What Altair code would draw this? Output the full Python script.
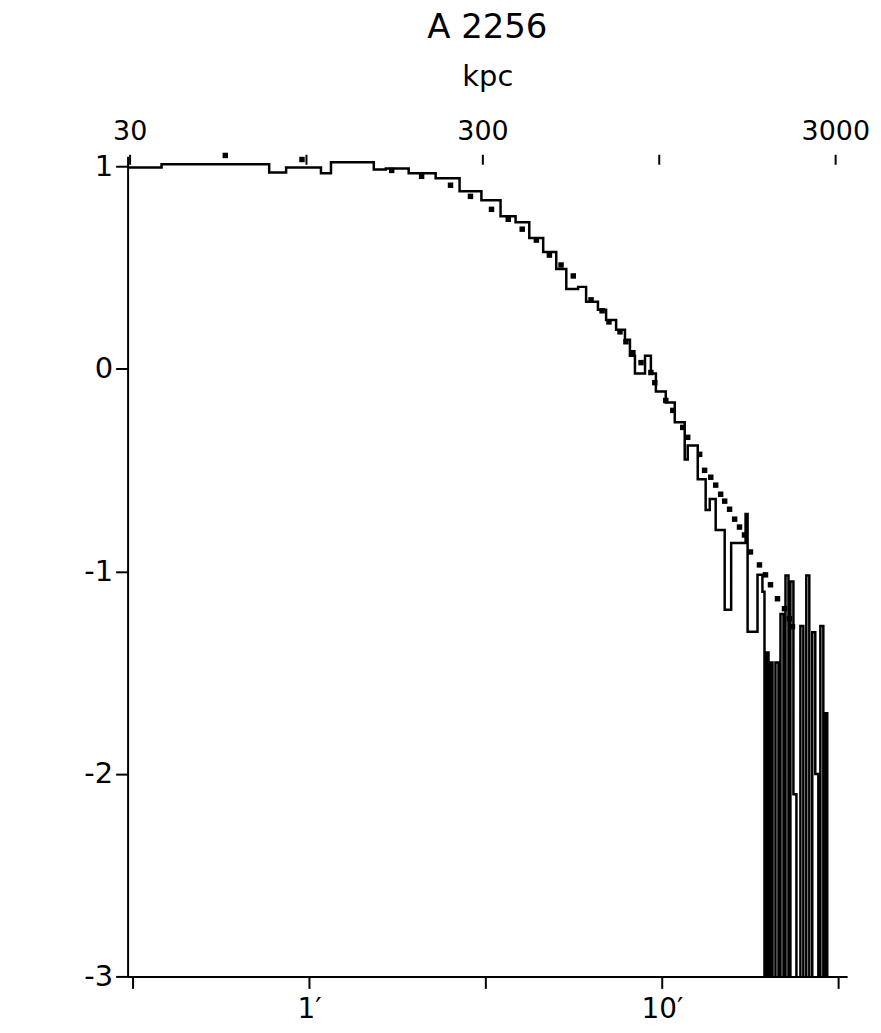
import altair as alt
import pandas as pd

FONT = "DejaVu Sans, Liberation Sans"

# Observed profile (step histogram): left bin edge in arcmin, log10 surface brightness
hist_r = [0.306, 0.382, 0.771, 0.861, 1.081, 1.154, 1.526, 1.651, 1.916, 2.285,
          2.671, 3.08, 3.49, 3.85, 4.21, 4.61, 5.02, 5.36, 5.79, 6.10,
          6.59, 6.95, 7.42, 7.86, 8.12, 8.39, 8.96, 9.31, 9.62, 10.26,
          10.88, 11.61, 11.84, 12.64, 13.31, 13.67, 14.21, 15.07, 15.72, 17.27,
          17.5, 18.67, 19.28, 19.54, 19.80, 20.06, 20.32, 20.59, 20.99, 21.41,
          21.69, 22.12, 22.41, 22.85, 23.14, 23.60, 24.07, 24.70, 25.18, 25.67,
          26.18, 26.69, 27.22, 27.77, 28.14, 28.69, 29.07, 29.43]
hist_log = [0.995, 1.010, 0.970, 0.995, 0.966, 1.020, 0.985, 0.990, 0.966, 0.941,
            0.877, 0.833, 0.754, 0.724, 0.646, 0.577, 0.493, 0.395, 0.405, 0.331,
            0.292, 0.242, 0.193, 0.144, 0.065, -0.023, 0.065, -0.023, -0.112, -0.166,
            -0.264, -0.447, -0.378, -0.545, -0.697, -0.643, -0.796, -1.189, -0.86, -0.717,
            -1.298, -1.017, -1.10, -3.5, -1.40, -3.5, -1.45, -3.5, -1.45, -3.5,
            -1.21, -3.5, -1.02, -3.5, -1.05, -2.10, -3.5, -1.27, -3.5, -1.02,
            -3.5, -1.30, -2.0, -3.5, -1.27, -3.5, -1.70, -3.5]

# Model profile (dots)
dot_r = [0.579, 0.955, 1.715, 2.085, 2.518, 2.868, 3.29, 3.67, 4.02, 4.41,
         4.80, 5.18, 5.61, 6.30, 6.77, 7.08, 7.61, 7.91, 8.28, 8.73,
         9.31, 9.55, 10.26, 10.74, 11.46, 11.84, 12.80, 13.22, 13.76, 14.21,
         14.68, 15.07, 15.56, 16.08, 16.60, 17.15, 17.83, 18.91, 19.67, 20.32,
         21.27, 22.26, 22.99, 23.45]
dot_log = [1.054, 1.034, 0.980, 0.951, 0.907, 0.852, 0.788, 0.739, 0.690, 0.636,
           0.562, 0.513, 0.459, 0.341, 0.287, 0.232, 0.183, 0.134, 0.080, 0.031,
           -0.018, -0.068, -0.156, -0.205, -0.289, -0.338, -0.422, -0.501, -0.535, -0.574,
           -0.619, -0.653, -0.693, -0.742, -0.781, -0.820, -0.904, -0.968, -1.017, -1.066,
           -1.135, -1.184, -1.234, -1.273]

arcmin_ticks = [0.3162, 1, 3.162, 10, 31.62]
kpc_ticks = [30, 94.87, 300, 948.7, 3000]
y_ticks = [-3, -2, -1, 0, 1]

hist_df = pd.DataFrame({"r": hist_r, "logS": hist_log})
dots_df = pd.DataFrame({"r": dot_r, "logS": dot_log})
kpc_df = pd.DataFrame({"kpc": kpc_ticks})

xscale = alt.Scale(type="log", domain=[0.306, 33.5])
yscale = alt.Scale(domain=[-3.0, 1.05])

hist = alt.Chart(hist_df).mark_line(
    interpolate="step-after", color="black", strokeWidth=2.5, clip=True
).encode(
    x=alt.X("r:Q", scale=xscale,
            axis=alt.Axis(values=arcmin_ticks, title=None, tickSize=12, labelPadding=7,
                          labelFontSize=28,
                          labelExpr="datum.value == 1 ? '1′' : (datum.value == 10 ? '10′' : '')")),
    y=alt.Y("logS:Q", scale=yscale,
            axis=alt.Axis(values=y_ticks, title=None, tickSize=12, labelPadding=3,
                          labelFontSize=29,
                          labelExpr="datum.value < 0 ? '-' + abs(datum.value) : '' + datum.value")),
)

dots = alt.Chart(dots_df).mark_square(size=30, color="black", opacity=1).encode(
    x=alt.X("r:Q", scale=xscale),
    y=alt.Y("logS:Q", scale=yscale),
)

kpc = alt.Chart(kpc_df).mark_point(opacity=0).encode(
    x=alt.X("kpc:Q", scale=alt.Scale(type="log", domain=[29.6, 3240]),
            axis=alt.Axis(orient="top", values=kpc_ticks, title="kpc", domain=False,
                          tickSize=10, labelPadding=9, labelFontSize=27, titleFontSize=29,
                          titleFontWeight="normal", titlePadding=26, offset=-8,
                          labelExpr="(datum.value == 30 || datum.value == 300 || datum.value == 3000) ? '' + datum.value : ''")),
    y=alt.value(0),
)

chart = alt.layer(alt.layer(hist, dots), kpc).resolve_scale(x="independent").properties(
    width=722,
    height=823,
    padding={"left": 120, "top": 147, "right": 26, "bottom": 54},
    autosize=alt.AutoSizeParams(type="none"),
    title=alt.Title("A 2256", fontSize=34, font=FONT, fontWeight="normal",
                    anchor="middle", offset=18, color="black"),
).configure_view(stroke=None).configure_axis(
    grid=False, domainColor="black", tickColor="black", labelColor="black",
    titleColor="black", domainWidth=2, tickWidth=2, labelFont=FONT, titleFont=FONT
)

chart.save("out.html", embed_options={"renderer": "svg", "actions": False})
